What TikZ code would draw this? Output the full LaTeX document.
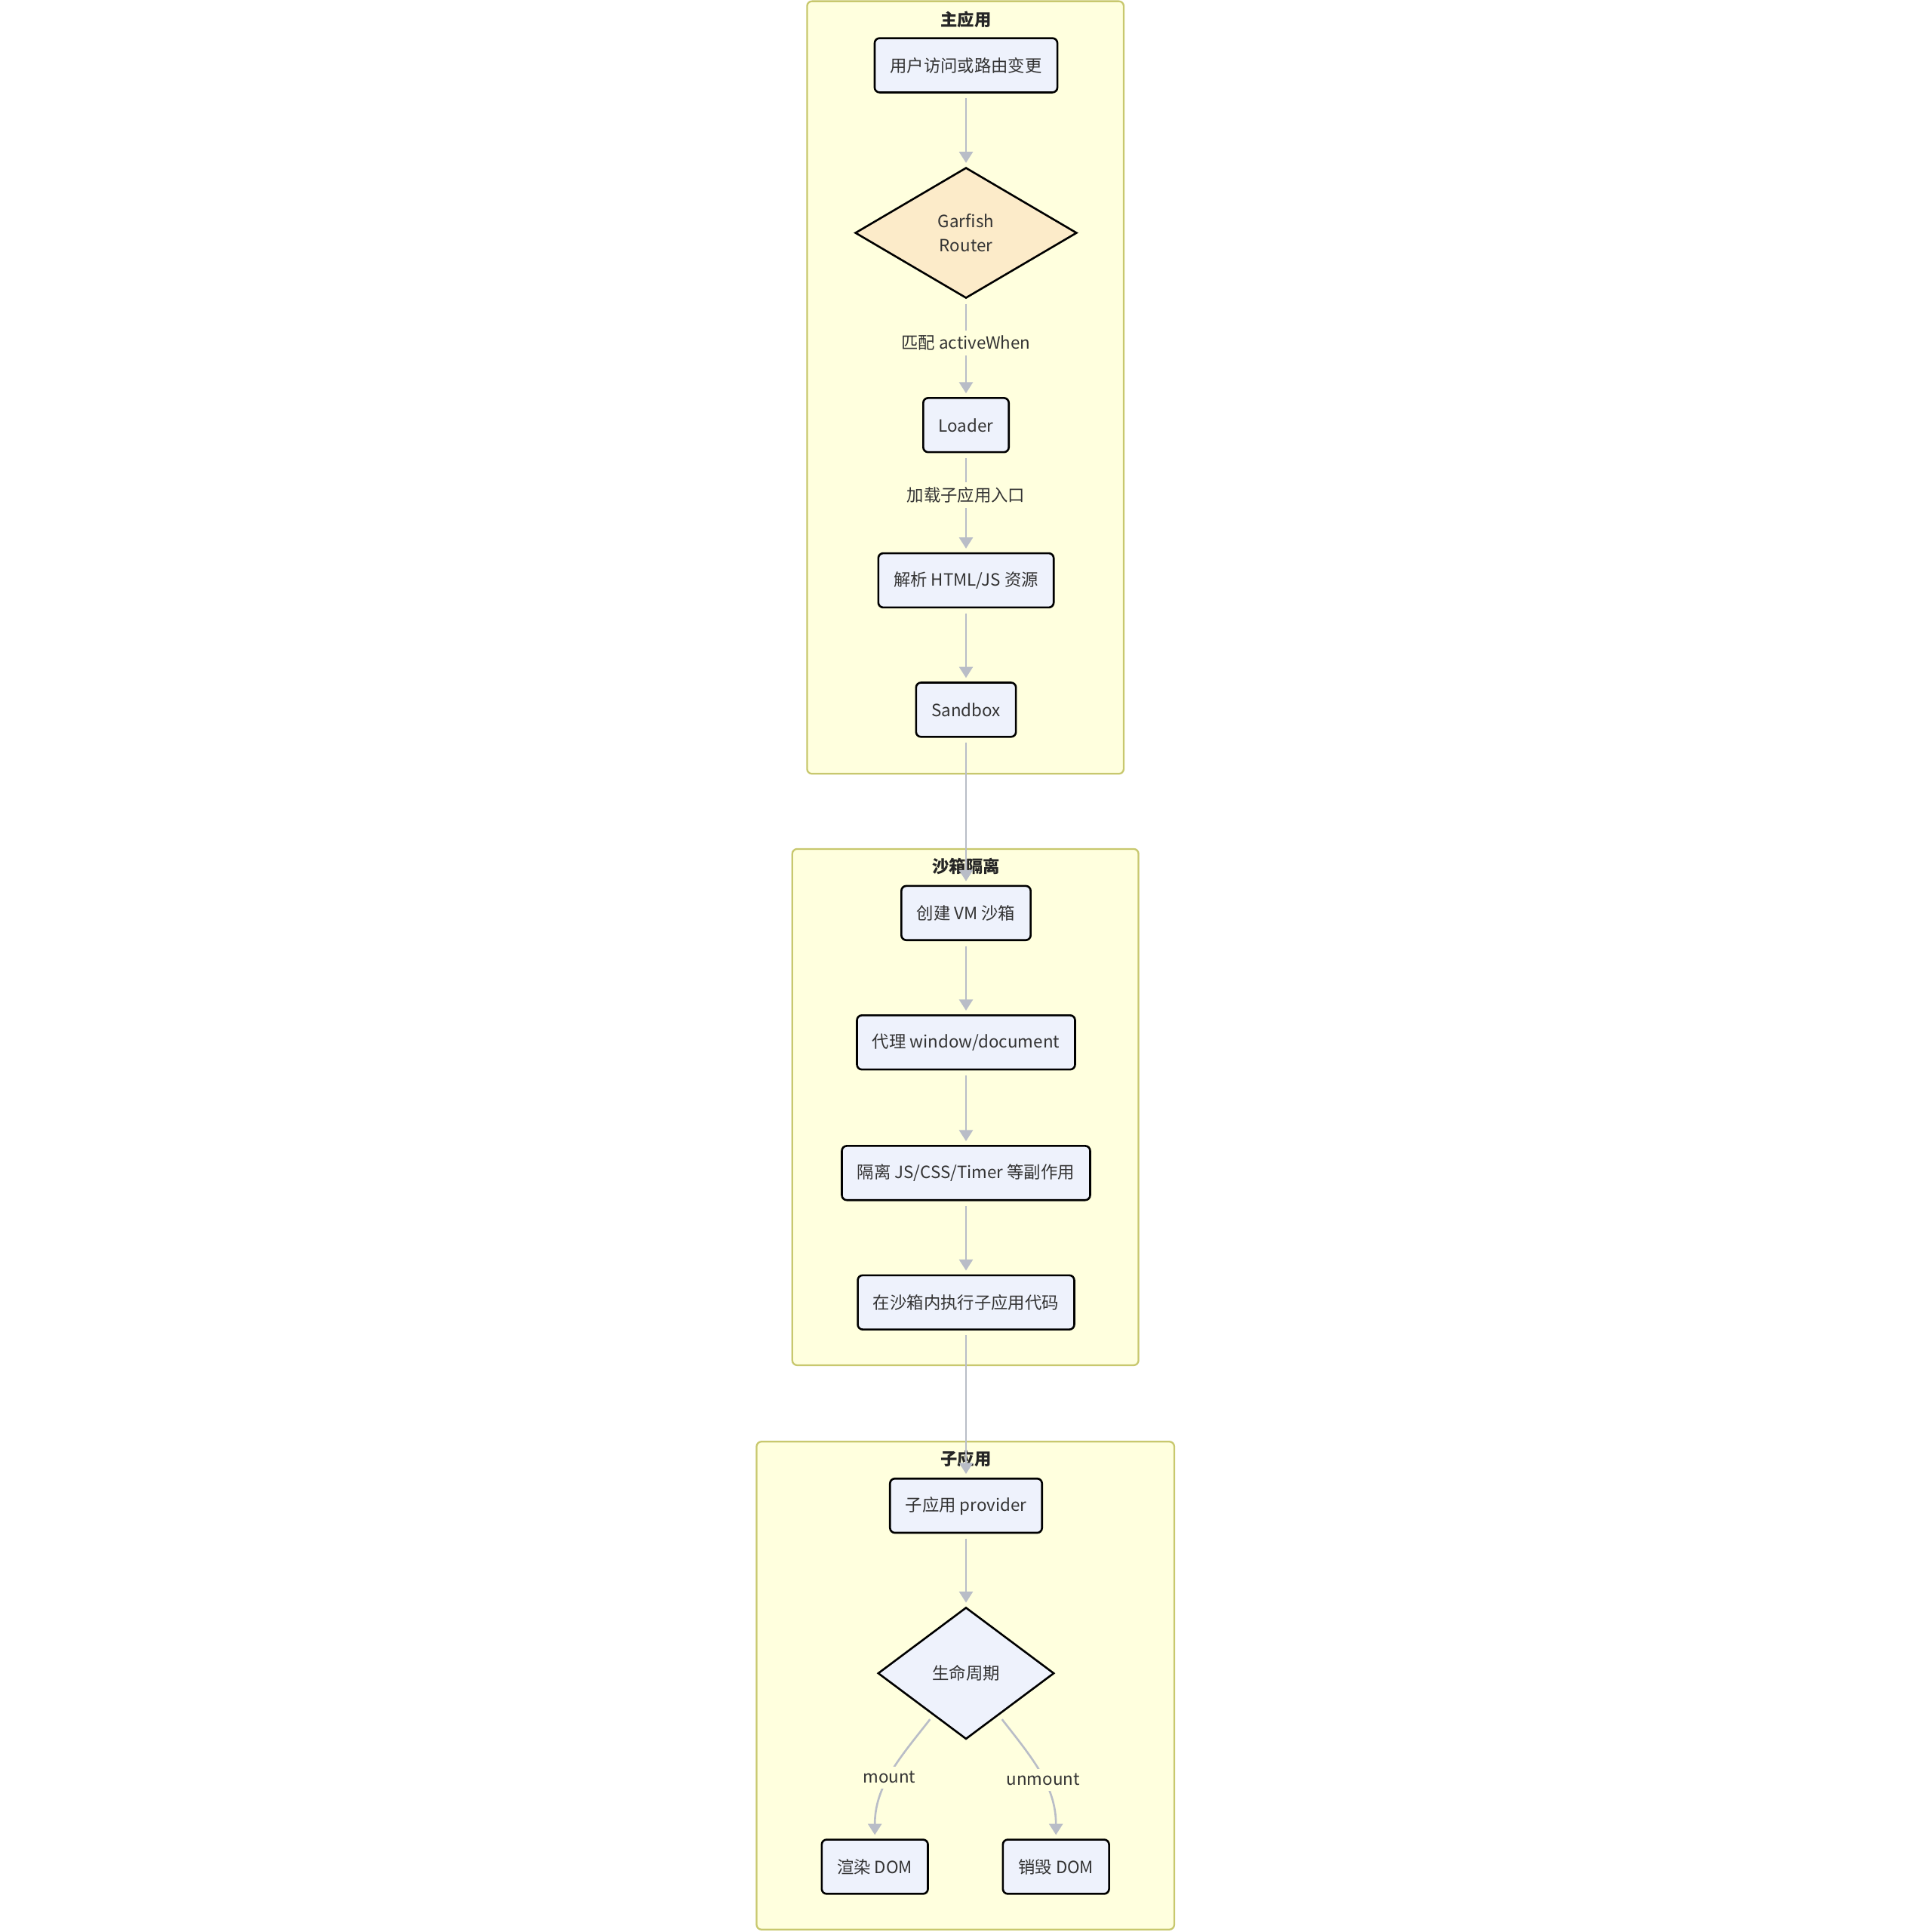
\documentclass[tikz,border=0pt]{standalone}
\usepackage{fontspec}
\setmainfont{Noto Sans CJK SC}
\usepackage{xcolor}
\usepackage{tikz}
\usetikzlibrary{arrows.meta, shapes.geometric, positioning}

\definecolor{clusterbg}{HTML}{FFFFDE}
\definecolor{clusterline}{HTML}{C8C86E}
\definecolor{nodebg}{HTML}{EEF2FC}
\definecolor{routerbg}{HTML}{FCEBC9}
\definecolor{edgegray}{HTML}{B9BDC7}
\definecolor{txt}{HTML}{333333}

\begin{document}
\begin{tikzpicture}[x=1pt, y=-1pt, >={Triangle[width=11pt,length=9pt]},
    every node/.style={font=\fontsize{13.7}{20}\selectfont, text=txt},
    proc/.style={draw=black, line width=1.6pt, fill=nodebg, rounded corners=4pt,
        minimum height=44pt, inner xsep=12.5pt},
    decision/.style={diamond, draw=black, line width=1.6pt, fill=nodebg,
        inner sep=0pt, align=center},
    group/.style={draw=clusterline, line width=1.4pt, fill=clusterbg, rounded corners=4pt},
    grouptitle/.style={font=\bfseries\fontsize{13.7}{16}\selectfont, text=black!85},
    arr/.style={->, draw=edgegray, line width=1.6pt, shorten <=4pt, shorten >=3pt},
    lbl/.style={fill=clusterbg, inner sep=4pt}]
    \fill[white] (0,0) rectangle (1568,1568);
    \useasboundingbox (0,0) rectangle (1568,1568);

    % 1. Các khung nhóm
    \draw[group] (655,1) rectangle (912,628);
    \draw[group] (643,689) rectangle (924,1108);
    \draw[group] (614,1170) rectangle (953,1566);
    \node[grouptitle] (t1) at (784,16) {主应用};
    \node[grouptitle] (t2) at (784,703) {沙箱隔离};
    \node[grouptitle] (t3) at (784,1184) {子应用};

    % 2. Các bước của ứng dụng chính
    \node[proc] (visit) at (784,53) {用户访问或路由变更};
    \node[decision, fill=routerbg, minimum width=180pt, minimum height=106pt] (router) at (784,189) {Garfish\\Router};
    \node[proc] (loader) at (784,345) {Loader};
    \node[proc] (parse) at (784,471) {解析 HTML/JS 资源};
    \node[proc] (sandbox) at (784,576) {Sandbox};

    % 3. Hộp cát
    \node[proc] (vm) at (784,741) {创建 VM 沙箱};
    \node[proc] (proxy) at (784,846) {代理 window/document};
    \node[proc] (isolate) at (784,952) {隔离 JS/CSS/Timer 等副作用};
    \node[proc] (exec) at (784,1057) {在沙箱内执行子应用代码};

    % 4. Ứng dụng con
    \node[proc] (provider) at (784,1222) {子应用 provider};
    \node[decision, minimum width=143pt, minimum height=107pt] (life) at (784,1358) {生命周期};
    \node[proc] (render) at (710,1515) {渲染 DOM};
    \node[proc] (destroy) at (857,1515) {销毁 DOM};

    % 5. Các mũi tên
    \draw[arr] (visit) -- (router);
    \draw[arr] (router) -- node[lbl, pos=0.45] {匹配 activeWhen} (loader);
    \draw[arr] (loader) -- node[lbl, pos=0.42] {加载子应用入口} (parse);
    \draw[arr] (parse) -- (sandbox);
    \draw[arr] (sandbox) -- (vm);
    \draw[arr] (vm) -- (proxy);
    \draw[arr] (proxy) -- (isolate);
    \draw[arr] (isolate) -- (exec);
    \draw[arr] (exec) -- (provider);
    \draw[arr] (provider) -- (life);
    \draw[arr] (life) to[out=-128, in=90] node[lbl, pos=0.54] {mount} (render);
    \draw[arr] (life) to[out=-52, in=90] node[lbl, pos=0.56] {unmount} (destroy);
\end{tikzpicture}
\end{document}
